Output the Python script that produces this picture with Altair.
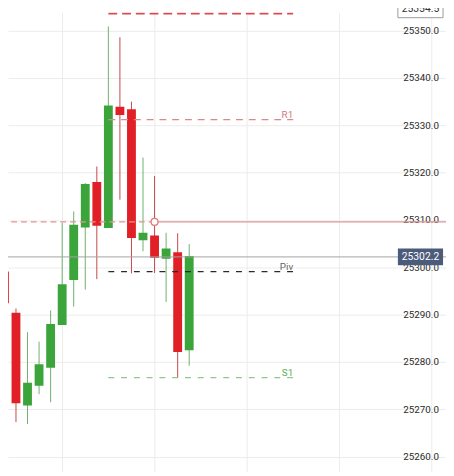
import altair as alt
import pandas as pd

# ---- candle data ----
candle_idx = [0, 1, 2, 3, 4, 5, 6, 7, 8, 9, 10, 11, 12, 13, 14, 15, 16]
opens  = [25299.1, 25290.4, 25270.8, 25275.0, 25278.8, 25287.8, 25297.3, 25308.4, 25318.0,
          25308.3, 25333.9, 25333.4, 25305.7, 25306.7, 25301.8, 25303.2, 25282.5]
closes = [25292.4, 25271.3, 25275.6, 25279.5, 25288.0, 25296.4, 25309.0, 25317.6, 25308.8,
          25334.2, 25332.2, 25306.2, 25307.3, 25302.0, 25304.0, 25282.1, 25302.4]
highs  = [25300.5, 25291.3, 25286.3, 25284.3, 25290.9, 25309.4, 25311.8, 25317.8, 25321.3,
          25350.9, 25348.6, 25335.0, 25323.2, 25319.3, 25307.3, 25307.2, 25304.9]
lows   = [25290.0, 25267.3, 25266.9, 25273.2, 25271.5, 25287.8, 25291.7, 25295.3, 25297.5,
          25308.3, 25314.3, 25298.7, 25303.4, 25298.8, 25292.7, 25276.6, 25279.2]

# ---- pivot levels ----
level_names  = ["R2", "R1", "Piv", "S1"]
level_values = [25353.6, 25331.2, 25299.1, 25276.7]
level_start  = 9
level_end    = 25

# red reference line with marker
ref_line_value = 25309.6
ref_marker_idx = 13

# price tags
last_price = 25302.2
top_price  = 25354.5

y_ticks = [25260, 25270, 25280, 25290, 25300, 25310, 25320, 25330, 25340, 25350]
x_grid  = [5, 13, 21, 29, 37]

W, H = 446, 468
xs = alt.Scale(domain=[0.735, 37.81], nice=False, zero=False)
ys = alt.Scale(domain=[25256.8, 25353.9], nice=False, zero=False)

ax_x = alt.Axis(values=x_grid, grid=True, labels=False, ticks=False, domain=False, title=None,
                gridColor="#ececec", gridWidth=1)
ax_y = alt.Axis(orient="right", values=y_ticks, format=".1f", offset=-44, ticks=False, domain=False,
                labelPadding=0, labelAlign="left", labelBaseline="middle", labelFont="Roboto",
                labelFontSize=10, labelColor="#2b2b2b", grid=True, gridColor="#ececec",
                gridWidth=1, title=None)


def X(field):
    return alt.X(field, scale=xs, axis=ax_x)


def Y(field):
    return alt.Y(field, scale=ys, axis=ax_y)


df = pd.DataFrame({"i": candle_idx, "open": opens, "close": closes, "high": highs, "low": lows})
up = "datum.close >= datum.open"

wick = alt.Chart(df).mark_rule(strokeWidth=1, clip=True).encode(
    x=X("i:Q"), y=Y("low:Q"), y2="high:Q",
    color=alt.condition(up, alt.value("#6cb06c"), alt.value("#c4454b")),
)

body = alt.Chart(df).mark_bar(size=9, clip=True).encode(
    x=X("i:Q"), y=Y("open:Q"), y2="close:Q",
    color=alt.condition(up, alt.value("#3ba53b"), alt.value("#e01f27")),
)

lv = pd.DataFrame({"name": level_names, "value": level_values})
lv["start"] = level_start
lv["end"] = level_end

level_style = {
    "R2": ("#e0474c", 2.0, [9, 5], "#e0474c"),
    "R1": ("#d9898d", 1.3, [7, 6], "#d07a7e"),
    "Piv": ("#2a2a2a", 1.2, [6, 7], "#666666"),
    "S1": ("#8ec88e", 1.3, [6, 7], "#5aae5a"),
}
level_layers = []
for name in level_names:
    col, sw, dash, tcol = level_style[name]
    d = lv[lv["name"] == name]
    level_layers.append(
        alt.Chart(d).mark_rule(color=col, strokeWidth=sw, strokeDash=dash, clip=True).encode(
            x=X("start:Q"), x2="end:Q", y=Y("value:Q"))
    )
    level_layers.append(
        alt.Chart(d).mark_text(color=tcol, align="right", baseline="alphabetic", dy=-2,
                               font="Roboto", fontSize=10, clip=True).encode(
            x=X("end:Q"), y=Y("value:Q"), text="name:N")
    )

rl = pd.DataFrame({"value": [ref_line_value], "i": [ref_marker_idx]})
ref_color = "#e39393"
ref_dash = alt.Chart(rl).mark_rule(color=ref_color, strokeWidth=1.5, strokeDash=[6, 4], clip=True).encode(
    x=X("i:Q"), x2=alt.value(0), y=Y("value:Q"))
ref_solid = alt.Chart(rl).mark_rule(color=ref_color, strokeWidth=1.5, clip=True).encode(
    x=X("i:Q"), x2=alt.value(W), y=Y("value:Q"))
ref_marker = alt.Chart(rl).mark_point(shape="circle", size=49, filled=True, fill="white",
                                      stroke="#e07a7a", strokeWidth=1.3, opacity=1, clip=True).encode(
    x=X("i:Q"), y=Y("value:Q"))

tags = pd.DataFrame({"value": [last_price], "label": [f"{last_price:.1f}"]})
top = pd.DataFrame({"value": [top_price], "label": [f"{top_price:.1f}"]})

price_line = alt.Chart(tags).mark_rule(color="#a2a2a2", strokeWidth=1).encode(
    y=Y("value:Q"), x=alt.value(0), x2=alt.value(W))

box_shape = "M-1,-0.37L1,-0.37L1,0.37L-1,0.37Z"
price_box = alt.Chart(tags).mark_point(shape=box_shape, size=2116, filled=True, fill="#4b5c7b",
                                       opacity=1).encode(
    x=alt.value(420), y=Y("value:Q"))
price_text = alt.Chart(tags).mark_text(color="white", font="Roboto", fontSize=10.5).encode(
    x=alt.value(420), y=Y("value:Q"), text="label:N")

top_box = alt.Chart(top).mark_point(shape=box_shape, size=2116, filled=True, fill="white",
                                    stroke="#9a9a9a", strokeWidth=1, opacity=1).encode(
    x=alt.value(420), y=Y("value:Q"))
top_text = alt.Chart(top).mark_text(color="#333333", font="Roboto", fontSize=10.5).encode(
    x=alt.value(420), y=Y("value:Q"), text="label:N")

chart = alt.layer(
    wick, body, *level_layers, ref_dash, ref_solid, ref_marker,
    price_line, price_box, price_text, top_box, top_text
).properties(
    width=W, height=H, padding=0,
    autosize=alt.AutoSizeParams(type="none"),
    background="white",
).configure_view(stroke=None)

chart.save("out.html", embed_options={"renderer": "svg", "actions": False})
